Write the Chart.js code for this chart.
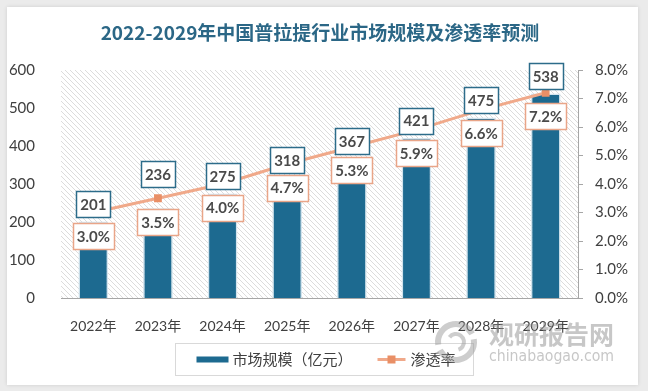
<!DOCTYPE html>
<html>
<head>
<meta charset="utf-8">
<script src="https://cdn.jsdelivr.net/npm/chart.js@4.4.1/dist/chart.umd.min.js"></script>
<style>
html,body{margin:0;padding:0;background:#ebebeb;}
#wrap{width:648px;height:391px;position:relative;}
canvas{display:block;}
</style>
</head>
<body>
<div id="wrap"><canvas id="c" width="648" height="391"></canvas></div>
<script>
// ---- data ----
const titleText = '2022-2029年中国普拉提行业市场规模及渗透率预测';
const categories = ['2022年','2023年','2024年','2025年','2026年','2027年','2028年','2029年'];
const marketSize = [201, 236, 275, 318, 367, 421, 475, 538];          // 亿元
const penetration = [3.0, 3.5, 4.0, 4.7, 5.3, 5.9, 6.6, 7.2];          // %
const seriesNames = ['市场规模（亿元）', '渗透率'];
const watermarkCN = '观研报告网';
const watermarkEN = 'chinabaogao.com';

const BAR_COLOR = '#1d6a90';
const LINE_COLOR = '#f0a98a';
const MARK_COLOR = '#e98f66';
const TEXT_COLOR = '#404040';
const LATIN = 'Lato, "Noto Sans CJK SC", sans-serif';
const CJK = '"Noto Sans CJK SC", "Noto Sans", sans-serif';

// hatch pattern
function makeHatch(){
  const p = document.createElement('canvas');
  p.width = 5; p.height = 5;
  const g = p.getContext('2d');
  g.strokeStyle = '#dcdcdc'; g.lineWidth = 1;
  g.beginPath();
  g.moveTo(0,0); g.lineTo(5,5);
  g.moveTo(-1,4); g.lineTo(1,6);
  g.moveTo(4,-1); g.lineTo(6,1);
  g.stroke();
  return p;
}
const hatchCanvas = makeHatch();

const bgPlugin = {
  id: 'bg',
  beforeDraw(chart){
    const ctx = chart.ctx, a = chart.chartArea;
    ctx.save();
    ctx.fillStyle = '#ebebeb';
    ctx.fillRect(0,0,chart.width,chart.height);
    ctx.shadowColor = 'rgba(0,0,0,0.12)';
    ctx.shadowBlur = 4;
    ctx.fillStyle = '#ffffff';
    ctx.fillRect(7,7,631,378);
    ctx.shadowColor = 'transparent';
    ctx.fillStyle = ctx.createPattern(hatchCanvas,'repeat');
    ctx.fillRect(a.left, a.top, a.right - a.left, a.bottom - a.top);
    ctx.restore();
  }
};

function drawBox(ctx, cx, cy, text, border){
  ctx.font = 'bold 15px ' + LATIN;
  const tw = ctx.measureText(text).width;
  const w = Math.round(tw + 8), h = 26;
  const x = Math.round(cx - w/2) + 0.5, y = Math.round(cy - h/2) + 0.5;
  ctx.fillStyle = '#ffffff';
  ctx.fillRect(x, y, w, h);
  ctx.strokeStyle = border; ctx.lineWidth = 1.5;
  ctx.strokeRect(x, y, w, h);
  ctx.fillStyle = '#4a4a4a';
  ctx.textAlign = 'center'; ctx.textBaseline = 'middle';
  ctx.fillText(text, cx, cy + 1);
}

const labelPlugin = {
  id: 'labels',
  afterDatasetsDraw(chart){
    const ctx = chart.ctx;
    const barMeta = chart.getDatasetMeta(0);
    const lineMeta = chart.getDatasetMeta(1);
    ctx.save();
    lineMeta.data.forEach((pt, i) => {
      drawBox(ctx, pt.x, pt.y + 23.5, penetration[i].toFixed(1) + '%', '#e9a588');
    });
    barMeta.data.forEach((bar, i) => {
      const lift = (i === 1) ? 34 : 17.5;
      drawBox(ctx, bar.x, bar.y - lift, String(marketSize[i]), '#2c6c8a');
    });
    ctx.restore();
  },
  afterDraw(chart){
    const ctx = chart.ctx;
    ctx.save();
    // title
    ctx.font = 'bold 19px ' + CJK;
    ctx.fillStyle = '#2b6786';
    ctx.textAlign = 'center'; ctx.textBaseline = 'middle';
    ctx.fillText(titleText, 320, 33);

    // legend
    ctx.font = '15px ' + CJK;
    const t1 = ctx.measureText(seriesNames[0]).width;
    const t2 = ctx.measureText(seriesNames[1]).width;
    const padL = 21, padR = 18, sw1 = 32, sw2 = 28, gap1 = 4, gap2 = 5, between = 25;
    const total = padL + sw1 + gap1 + t1 + between + sw2 + gap2 + t2 + padR;
    const bx = Math.round(324 - total/2) + 0.5, by = 343.5, bh = 32;
    ctx.strokeStyle = '#d9d9d9'; ctx.lineWidth = 1;
    ctx.fillStyle = '#ffffff';
    ctx.fillRect(bx, by, total, bh);
    ctx.strokeRect(bx, by, total, bh);
    const cy = by + bh/2;
    let x = bx + padL;
    ctx.fillStyle = BAR_COLOR;
    ctx.fillRect(x, cy - 3, sw1, 6);
    x += sw1 + gap1;
    ctx.fillStyle = TEXT_COLOR;
    ctx.textAlign = 'left'; ctx.textBaseline = 'middle';
    ctx.fillText(seriesNames[0], x, cy);
    x += t1 + between;
    ctx.strokeStyle = LINE_COLOR; ctx.lineWidth = 3;
    ctx.beginPath(); ctx.moveTo(x, cy); ctx.lineTo(x + sw2, cy); ctx.stroke();
    ctx.fillStyle = MARK_COLOR;
    ctx.fillRect(x + sw2/2 - 4, cy - 4, 8, 8);
    x += sw2 + gap2;
    ctx.fillStyle = TEXT_COLOR;
    ctx.fillText(seriesNames[1], x, cy);

    // watermark
    ctx.globalAlpha = 0.5;
    ctx.strokeStyle = '#9c9c9c'; ctx.lineWidth = 6;
    ctx.beginPath(); ctx.arc(456, 342, 18, Math.PI*0.95, Math.PI*1.85); ctx.stroke();
    ctx.beginPath(); ctx.arc(456, 342, 18, Math.PI*1.95, Math.PI*2.85); ctx.stroke();
    ctx.lineWidth = 4;
    ctx.beginPath(); ctx.arc(456, 342, 8, Math.PI*1.2, Math.PI*2.4); ctx.stroke();
    ctx.fillStyle = '#8f8f8f';
    ctx.font = 'bold 25px ' + CJK;
    ctx.textAlign = 'left'; ctx.textBaseline = 'middle';
    ctx.fillText(watermarkCN, 489, 334, 125);
    ctx.font = '16px "DejaVu Sans", sans-serif';
    ctx.fillText(watermarkEN, 489, 357, 125);
    ctx.restore();
  }
};

new Chart(document.getElementById('c'), {
  data: {
    labels: categories,
    datasets: [
      {
        type: 'bar',
        label: seriesNames[0],
        data: marketSize,
        yAxisID: 'y',
        backgroundColor: BAR_COLOR,
        borderColor: '#d3e4ee',
        borderWidth: 1.5,
        barPercentage: 0.46,
        categoryPercentage: 1.0,
        order: 2
      },
      {
        type: 'line',
        label: seriesNames[1],
        data: penetration,
        yAxisID: 'y1',
        borderColor: LINE_COLOR,
        borderWidth: 3,
        pointStyle: 'rect',
        pointRadius: 5.5,
        pointBackgroundColor: MARK_COLOR,
        pointBorderColor: MARK_COLOR,
        pointBorderWidth: 0,
        tension: 0,
        order: 1
      }
    ]
  },
  options: {
    responsive: false,
    animation: false,
    devicePixelRatio: 1,
    layout: { padding: { top: 70, left: 0, right: 0, bottom: 0 } },
    plugins: { legend: { display: false }, tooltip: { enabled: false }, title: { display: false } },
    scales: {
      x: {
        grid: { display: false },
        border: { display: true, color: '#a6a6a6', width: 1 },
        ticks: { color: TEXT_COLOR, font: { size: 14, family: LATIN }, padding: 12, maxRotation: 0 },
        afterFit(s){ s.height = 93; }
      },
      y: {
        position: 'left',
        min: 0, max: 600,
        grid: { display: false },
        border: { display: false },
        ticks: { stepSize: 100, color: TEXT_COLOR, font: { size: 15, family: LATIN }, padding: 18 },
        afterFit(s){ s.width = 61; }
      },
      y1: {
        position: 'right',
        min: 0, max: 8,
        grid: { display: true, drawOnChartArea: false, drawTicks: true, tickLength: 5, color: '#a6a6a6' },
        border: { display: true, color: '#a6a6a6', width: 1 },
        ticks: { stepSize: 1, color: TEXT_COLOR, font: { size: 15, family: LATIN }, padding: 12,
                 callback: v => v.toFixed(1) + '%' },
        afterFit(s){ s.width = 70; }
      }
    }
  },
  plugins: [bgPlugin, labelPlugin]
});
</script>
</body>
</html>
